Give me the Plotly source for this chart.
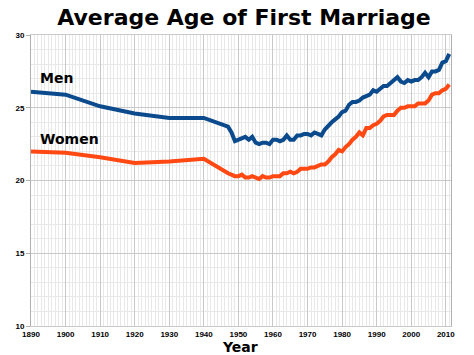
import plotly.graph_objects as go

years = [1890, 1900, 1910, 1920, 1930, 1940] + list(range(1947, 2012))

men = [26.1, 25.9, 25.1, 24.6, 24.3, 24.3,
       23.7, 23.3, 22.7, 22.8, 22.9, 23.0, 22.8, 23.0, 22.6, 22.5, 22.6, 22.6, 22.5,
       22.8, 22.8, 22.7, 22.8, 23.1, 22.8, 22.8, 23.1, 23.1, 23.2,
       23.2, 23.1, 23.3, 23.2, 23.1, 23.5, 23.8, 24.0, 24.2, 24.4,
       24.7, 24.8, 25.2, 25.4, 25.4, 25.5, 25.7, 25.8, 25.9, 26.2,
       26.1, 26.3, 26.5, 26.5, 26.7, 26.9, 27.1, 26.8, 26.7, 26.9,
       26.8, 26.9, 26.9, 27.1, 27.4, 27.1, 27.5, 27.5, 27.6, 28.1,
       28.2, 28.7]

women = [22.0, 21.9, 21.6, 21.2, 21.3, 21.5,
         20.5, 20.4, 20.3, 20.3, 20.4, 20.2, 20.2, 20.3, 20.2, 20.1, 20.3, 20.2, 20.2,
         20.3, 20.3, 20.3, 20.5, 20.5, 20.6, 20.5, 20.6, 20.8, 20.8,
         20.8, 20.9, 20.9, 21.0, 21.1, 21.1, 21.3, 21.6, 21.8, 22.1,
         22.0, 22.3, 22.5, 22.8, 23.0, 23.3, 23.1, 23.6, 23.6, 23.8,
         23.9, 24.1, 24.4, 24.5, 24.5, 24.5, 24.8, 25.0, 25.0, 25.1,
         25.1, 25.1, 25.3, 25.3, 25.3, 25.5, 25.9, 26.0, 26.0, 26.2,
         26.3, 26.6]

x_ticks = list(range(1890, 2011, 10))
y_ticks = [10, 15, 20, 25, 30]

MEN_COLOR = "#0b4a8c"
WOMEN_COLOR = "#ff4812"

fig = go.Figure()
fig.add_trace(go.Scatter(x=years, y=men, mode="lines", name="Men",
                         line=dict(color=MEN_COLOR, width=4)))
fig.add_trace(go.Scatter(x=years, y=women, mode="lines", name="Women",
                         line=dict(color=WOMEN_COLOR, width=4)))

fig.update_layout(
    width=474, height=355,
    margin=dict(l=31, r=23, t=35, b=29),
    paper_bgcolor="white", plot_bgcolor="white",
    showlegend=False,
    title=dict(text="Average Age of First Marriage",
               font=dict(family="DejaVu Sans", size=22, color="black", weight="bold"),
               x=244 / 474, xref="container", xanchor="center",
               y=1 - 17 / 355, yref="container", yanchor="middle"),
)

fig.update_xaxes(
    range=[1890, 2011.5], tickvals=x_ticks, ticktext=[str(v) for v in x_ticks],
    showgrid=True, gridcolor="#c9c9c9", gridwidth=1,
    minor=dict(dtick=1, tick0=1890, showgrid=True, gridcolor="#e8e8e8", gridwidth=1),
    showline=True, linecolor="#c9c9c9", mirror=True,
    ticks="", zeroline=False,
    tickfont=dict(family="Liberation Sans", size=8, color="black", weight="bold"),
)
fig.update_yaxes(
    range=[10, 30], tickvals=y_ticks, ticktext=[str(v) for v in y_ticks],
    showgrid=True, gridcolor="#c9c9c9", gridwidth=1,
    minor=dict(dtick=1, tick0=10, showgrid=True, gridcolor="#e8e8e8", gridwidth=1),
    showline=True, linecolor="#b0b0b0", mirror=True,
    ticks="outside", ticklen=4, tickcolor="#b0b0b0", zeroline=False,
    tickfont=dict(family="Liberation Sans", size=8, color="black", weight="bold"),
)

fig.add_annotation(text="Year", xref="paper", yref="paper", x=209 / 420, y=-21 / 291,
                   xanchor="center", yanchor="middle", showarrow=False,
                   font=dict(family="DejaVu Sans", size=14, color="black", weight="bold"))
fig.add_annotation(text="Men", xref="paper", yref="paper", x=7 / 420, y=0.853,
                   xanchor="left", yanchor="middle", showarrow=False,
                   font=dict(family="DejaVu Sans", size=14, color="black", weight="bold"))
fig.add_annotation(text="Women", xref="paper", yref="paper", x=7 / 420, y=0.643,
                   xanchor="left", yanchor="middle", showarrow=False,
                   font=dict(family="DejaVu Sans", size=14, color="black", weight="bold"))

fig.write_html("out.html", config={"displayModeBar": False},
               post_script="document.body.style.margin='0';document.body.style.overflow='hidden';")
